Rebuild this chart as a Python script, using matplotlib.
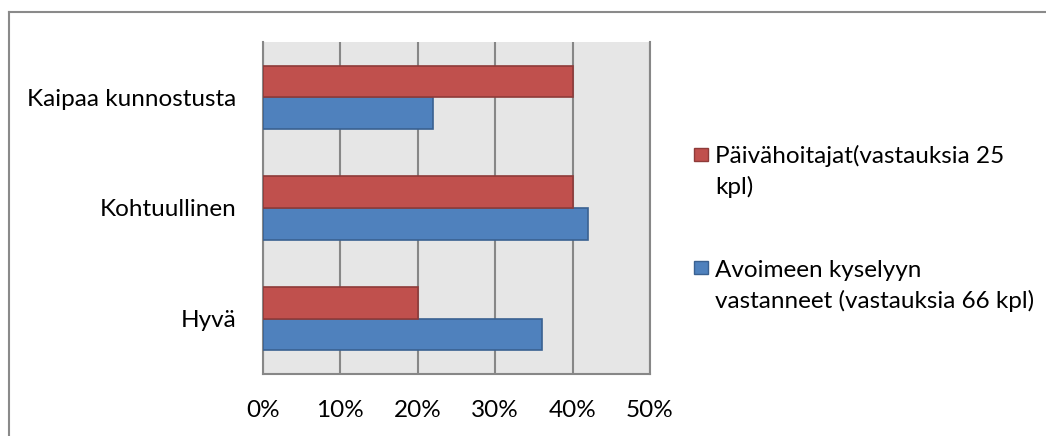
import matplotlib
matplotlib.use("Agg")
import matplotlib.pyplot as plt
from matplotlib.patches import Rectangle
from matplotlib.lines import Line2D
import numpy as np

categories = ["Hyvä", "Kohtuullinen", "Kaipaa kunnostusta"]
paivahoitajat = [20, 40, 40]
avoimeen = [36, 42, 22]
series_labels = ["Päivähoitajat(vastauksia 25\nkpl)", "Avoimeen kyselyyn\nvastanneet (vastauksia 66 kpl)"]
xticks = [0, 10, 20, 30, 40, 50]
xticklabels = ["0%", "10%", "20%", "30%", "40%", "50%"]

RED = "#C0504D"
BLUE = "#4F81BD"
RED_EDGE = "#8E3B39"
BLUE_EDGE = "#3A6191"
GRID = "#878787"
FONT = "Lato"
FS = 17.5

fig = plt.figure(figsize=(10.46, 4.36), dpi=100)
W, H = 1046, 436
ax = fig.add_axes([263 / W, 1 - 374 / H, (650 - 263) / W, (374 - 42) / H])
ax.set_facecolor("#E6E6E6")

y = np.arange(len(categories))
h = 0.285
ax.barh(y - h / 2, avoimeen, height=h, color=BLUE, edgecolor=BLUE_EDGE, linewidth=1.2, zorder=3)
ax.barh(y + h / 2, paivahoitajat, height=h, color=RED, edgecolor=RED_EDGE, linewidth=1.2, zorder=3)

ax.set_xlim(0, 50)
ax.set_ylim(-0.5, 2.5)
ax.set_xticks(xticks)
ax.set_xticklabels(xticklabels, fontsize=FS, family=FONT)
ax.set_yticks(y)
ax.set_yticklabels(categories, fontsize=FS, family=FONT)
ax.tick_params(axis="both", length=0)
ax.tick_params(axis="x", pad=19)
ax.tick_params(axis="y", pad=19)
ax.xaxis.grid(True, color=GRID, linewidth=1.5, zorder=0)
ax.set_axisbelow(True)
ax.spines["top"].set_visible(False)
for s in ["left", "bottom", "right"]:
    ax.spines[s].set_color(GRID)
    ax.spines[s].set_linewidth(1.5)

# outer chart border (top and left visible)
fig.add_artist(Line2D([9 / W, 9 / W], [0, 1 - 12.5 / H], transform=fig.transFigure, color="#8A8A8A", linewidth=1.5))
fig.add_artist(Line2D([9 / W, 1], [1 - 12.5 / H, 1 - 12.5 / H], transform=fig.transFigure, color="#8A8A8A", linewidth=1.5))

# legend
colors = [RED, BLUE]
edges = [RED_EDGE, BLUE_EDGE]
sq_top = [148, 261]
baselines = [163, 277]
for lab, c, e, t, b in zip(series_labels, colors, edges, sq_top, baselines):
    fig.add_artist(Rectangle((694 / W, 1 - (t + 13) / H), 14 / W, 13 / H, transform=fig.transFigure,
                             facecolor=c, edgecolor=e, linewidth=1))
    for i, line in enumerate(lab.split("\n")):
        fig.text(715 / W, 1 - (b + 31 * i) / H, line, fontsize=FS, family=FONT, va="baseline", ha="left")

fig.savefig("out.png", dpi=100)
